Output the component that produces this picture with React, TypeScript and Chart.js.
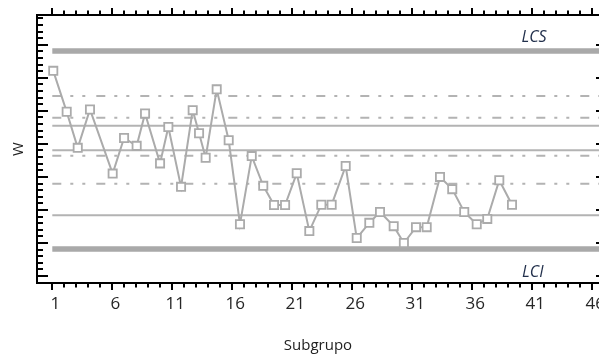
import React, { useEffect, useRef } from "react";
import { Chart, registerables } from "chart.js";

Chart.register(...registerables);

// Subgroup positions (x) and W values
const subgroupX = [1.08, 2.2, 3.12, 4.14, 6.03, 6.98, 8.03, 8.73, 9.98, 10.67, 11.73, 12.7, 13.23, 13.78, 14.7, 15.7, 16.64, 17.62, 18.58, 19.48, 20.4, 21.37, 22.42, 23.42, 24.28, 25.45, 26.37, 27.42, 28.31, 29.45, 30.3, 31.31, 32.2, 33.31, 34.33, 35.33, 36.37, 37.25, 38.25, 39.31];
const wValues = [6.21, 4.97, 3.88, 5.04, 3.1, 4.18, 3.94, 4.92, 3.41, 4.51, 2.7, 5.02, 4.32, 3.58, 5.65, 4.11, 1.57, 3.63, 2.73, 2.15, 2.15, 3.11, 1.36, 2.16, 2.16, 3.33, 1.15, 1.61, 1.94, 1.51, 1.0, 1.48, 1.48, 3.0, 2.63, 1.94, 1.57, 1.73, 2.9, 2.16];

const xTickValues = [1, 6, 11, 16, 21, 26, 31, 36, 41, 46];
const xTickLabels = ["1", "6", "11", "16", "21", "26", "31", "36", "41", "46"];

// Reference lines
const lcs = 6.81;
const lci = 0.82;
const solidLines = [4.55, 3.81, 1.84];
const dashedLines = [5.45, 4.79, 3.64, 2.79];

const X_MIN = -0.275;
const X_MAX = 46.56;
const Y_MIN = -0.21;
const Y_MAX = 7.9;

const GRAY = "#ababab";
const FONT = '"Open Sans", "DejaVu Sans", sans-serif';

const hLine = (v: number) => [
  { x: 1, y: v },
  { x: 48, y: v },
];

const ticksPlugin = {
  id: "manualTicks",
  afterDraw(chart: any) {
    const { ctx, chartArea, scales } = chart;
    const { left, right, top, bottom } = chartArea;
    const x = scales.x;
    const y = scales.y;
    ctx.save();
    ctx.strokeStyle = "#000";
    ctx.lineWidth = 2;
    ctx.lineCap = "butt";
    const seg = (x1: number, y1: number, x2: number, y2: number) => {
      ctx.beginPath();
      ctx.moveTo(x1, y1);
      ctx.lineTo(x2, y2);
      ctx.stroke();
    };
    for (let i = 1; i <= 47; i++) {
      const px = Math.round(x.getPixelForValue(i));
      if (px > right + 1) break;
      const major = (i - 1) % 5 === 0;
      const len = major ? 7 : 4.5;
      seg(px, bottom, px, bottom + len);
      seg(px, top, px, top - len);
    }
    for (let k = 0; k <= 40; k++) {
      const v = k * 0.2;
      const py = Math.round(y.getPixelForValue(v));
      if (py < top + 2) break;
      const major = k % 5 === 0;
      const len = major ? 11 : 6;
      seg(left, py, left + len, py);
      if (major) seg(right - 3, py, right, py);
    }
    ctx.fillStyle = "#22304c";
    ctx.font = `italic 16px ${FONT}`;
    ctx.textAlign = "left";
    ctx.textBaseline = "middle";
    ctx.fillText("LCS", x.getPixelForValue(40.1), y.getPixelForValue(lcs) - 14);
    ctx.fillText("LCI", x.getPixelForValue(40.15), y.getPixelForValue(lci) + 23);
    ctx.restore();
  },
};

export default function App() {
  const canvasRef = useRef<HTMLCanvasElement | null>(null);

  useEffect(() => {
    if (!canvasRef.current) return;
    const dashPattern = [9, 9, 3, 9, 3, 11];
    const datasets: any[] = [
      {
        label: "W",
        data: subgroupX.map((xv, i) => ({ x: xv, y: wValues[i] })),
        borderColor: GRAY,
        borderWidth: 2,
        pointStyle: "rect",
        pointRadius: 5.8,
        pointBorderWidth: 1.8,
        pointBorderColor: GRAY,
        pointBackgroundColor: "#ffffff",
        tension: 0,
      },
      {
        label: "LCS",
        data: hLine(lcs),
        borderColor: "#a9a9a9",
        borderWidth: 5.5,
        pointRadius: 0,
      },
      {
        label: "LCI",
        data: hLine(lci),
        borderColor: "#a9a9a9",
        borderWidth: 5.5,
        pointRadius: 0,
      },
      ...solidLines.map((v, i) => ({
        label: "s" + i,
        data: hLine(v),
        borderColor: "#b3b3b3",
        borderWidth: 2,
        pointRadius: 0,
      })),
      ...dashedLines.map((v, i) => ({
        label: "d" + i,
        data: hLine(v),
        borderColor: "#b3b3b3",
        borderWidth: 2,
        borderDash: dashPattern,
        pointRadius: 0,
      })),
    ];

    const chart = new Chart(canvasRef.current, {
      type: "line",
      data: { datasets },
      options: {
        responsive: false,
        animation: false,
        layout: { padding: 0, autoPadding: false },
        plugins: {
          legend: { display: false },
          tooltip: { enabled: false },
        },
        scales: {
          x: {
            type: "linear",
            position: "bottom",
            min: X_MIN,
            max: X_MAX,
            afterBuildTicks: (scale: any) => {
              scale.ticks = xTickValues.map((v) => ({ value: v }));
            },
            afterFit: (scale: any) => {
              scale.height = 75;
              scale.paddingLeft = 0;
              scale.paddingRight = 0;
            },
            ticks: {
              autoSkip: false,
              maxRotation: 0,
              padding: 11,
              labelOffset: 3,
              color: "#262626",
              font: { family: FONT, size: 17 },
              callback: (_v: any, i: number) => xTickLabels[i],
            },
            grid: { display: false, drawTicks: false },
            border: { display: true, color: "#000", width: 2 },
            title: {
              display: true,
              text: "Subgrupo",
              color: "#222",
              font: { family: FONT, size: 15 },
              padding: { top: 0, bottom: 3 },
            },
          },
          x2: {
            type: "linear",
            position: "top",
            min: X_MIN,
            max: X_MAX,
            afterFit: (scale: any) => {
              scale.height = 15;
              scale.paddingLeft = 0;
              scale.paddingRight = 0;
            },
            ticks: { display: false },
            grid: { display: false, drawTicks: false },
            border: { display: true, color: "#000", width: 2 },
          },
          y: {
            type: "linear",
            position: "left",
            min: Y_MIN,
            max: Y_MAX,
            afterFit: (scale: any) => {
              scale.width = 37;
              scale.paddingTop = 0;
              scale.paddingBottom = 0;
            },
            ticks: { display: false },
            grid: { display: false, drawTicks: false },
            border: { display: true, color: "#000", width: 2 },
            title: {
              display: true,
              text: "W",
              color: "#222",
              font: { family: FONT, size: 15 },
              padding: { top: 10, bottom: 0 },
            },
          },
        },
      },
      plugins: [ticksPlugin],
    } as any);

    return () => chart.destroy();
  }, []);

  return (
    <div style={{ position: "absolute", left: 0, top: 0, width: 599, height: 358, background: "#fff" }}>
      <canvas ref={canvasRef} width={599} height={358} style={{ display: "block" }} />
    </div>
  );
}
